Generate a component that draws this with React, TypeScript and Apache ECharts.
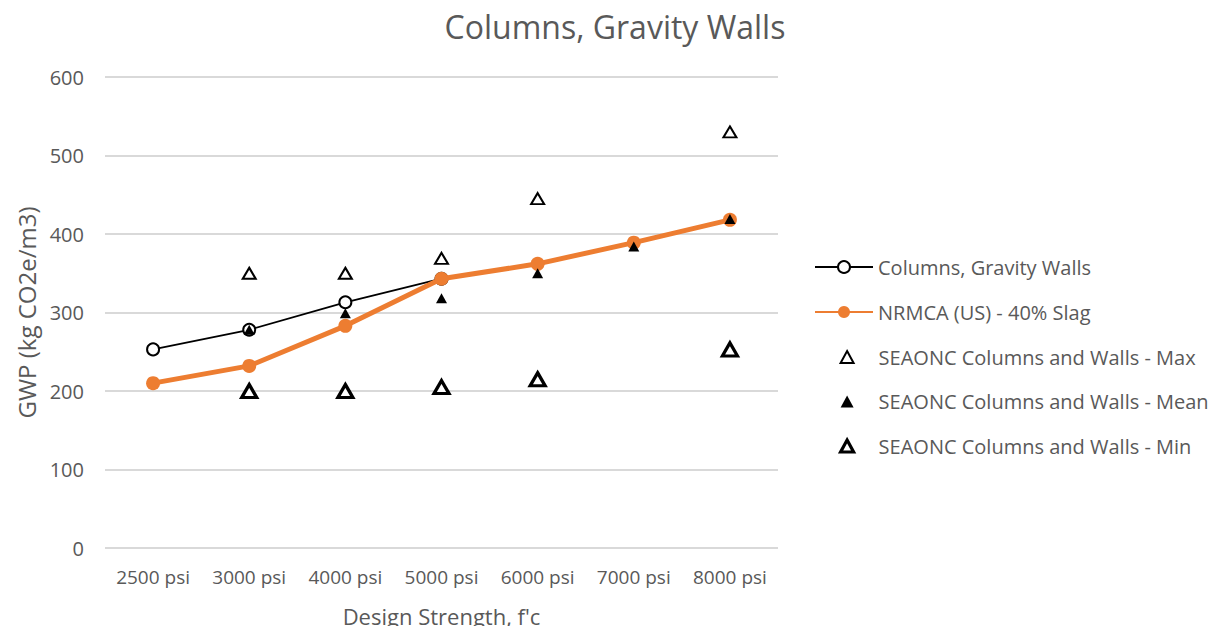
import React, { useEffect, useRef } from "react";
import * as echarts from "echarts";

const categories = ["2500 psi", "3000 psi", "4000 psi", "5000 psi", "6000 psi", "7000 psi", "8000 psi"];
const columnsGravityWalls = [253, 278, 313, 343, null, null, null];
const nrmcaSlag = [210, 232, 283, 343, 362, 389, 418];
const seaoncMax = [null, 350, 350, 369, 445, null, 530];
const seaoncMean = [null, 278, 299, 318, 350, 384, 419];
const seaoncMin = [null, 200, 200, 205, 215, null, 253];

const FONT = "'Open Sans', 'Noto Sans', sans-serif";
const GREY = "#595959";

export default function App() {
  const ref = useRef<HTMLDivElement>(null);
  useEffect(() => {
    if (!ref.current) return;
    const chart = echarts.init(ref.current, undefined, { renderer: "svg" });
    chart.setOption({
      animation: false,
      backgroundColor: "#ffffff",
      textStyle: { fontFamily: FONT, color: GREY },
      title: {
        text: "Columns, Gravity Walls",
        left: 610,
        textAlign: "center",
        top: 5,
        textStyle: { fontFamily: FONT, fontSize: 32, fontWeight: "normal", color: GREY },
      },
      grid: { left: 105, right: 450, top: 77, bottom: 86, containLabel: false },
      legend: [
        {
          orient: "vertical",
          left: 814,
          top: 256,
          padding: 0,
          itemWidth: 58,
          itemHeight: 15,
          itemGap: 23,
          textStyle: { fontFamily: FONT, fontSize: 20, color: GREY, lineHeight: 22 },
          data: ["Columns, Gravity Walls", "NRMCA (US) - 40% Slag"],
        },
        {
          orient: "vertical",
          left: 839,
          top: 346,
          padding: 0,
          itemWidth: 13,
          itemHeight: 12,
          itemGap: 22.5,
          textStyle: { fontFamily: FONT, fontSize: 20, color: GREY, lineHeight: 22, padding: [0, 0, 0, 20] },
          data: [
            { name: "SEAONC Columns and Walls - Max", itemStyle: { borderWidth: 2, opacity: 1 } },
            { name: "SEAONC Columns and Walls - Mean", itemStyle: { opacity: 1 } },
            { name: "SEAONC Columns and Walls - Min", itemStyle: { borderWidth: 3.2, opacity: 1 } },
          ],
        },
      ],
      xAxis: {
        type: "category",
        data: categories,
        boundaryGap: true,
        axisLine: { show: false },
        axisTick: { show: false },
        axisLabel: { fontFamily: FONT, fontSize: 19, color: GREY, margin: 19, interval: 0, hideOverlap: false },
        name: "Design Strength, f'c",
        nameLocation: "middle",
        nameGap: 57,
        nameTextStyle: { fontFamily: FONT, fontSize: 22, color: GREY },
      },
      yAxis: {
        type: "value",
        min: 0,
        max: 600,
        interval: 100,
        axisLine: { show: false },
        axisTick: { show: false },
        splitLine: { lineStyle: { color: "#d9d9d9", width: 1.8 } },
        axisLabel: { fontFamily: FONT, fontSize: 20, color: GREY, margin: 21 },
        name: "GWP (kg CO2e/m3)",
        nameLocation: "middle",
        nameRotate: 90,
        nameGap: 67,
        nameTextStyle: { fontFamily: FONT, fontSize: 24, color: GREY },
      },
      series: [
        {
          name: "Columns, Gravity Walls",
          type: "line",
          data: columnsGravityWalls,
          connectNulls: false,
          symbol: "emptyCircle",
          symbolSize: 12,
          color: "#000000",
          lineStyle: { color: "#000000", width: 1.8 },
          itemStyle: { color: "#000000", borderColor: "#000000", borderWidth: 1.8 },
          z: 2,
        },
        {
          name: "NRMCA (US) - 40% Slag",
          type: "line",
          data: nrmcaSlag,
          symbol: "circle",
          symbolSize: 14,
          color: "#ED7D31",
          lineStyle: { color: "#ED7D31", width: 5 },
          itemStyle: { color: "#ED7D31", borderColor: "#ED7D31", borderWidth: 0 },
          z: 3,
        },
        {
          name: "SEAONC Columns and Walls - Max",
          type: "scatter",
          data: seaoncMax,
          symbol: "triangle",
          symbolSize: [13, 11],
          itemStyle: { color: "#ffffff", borderColor: "#000000", borderWidth: 2, opacity: 1 },
          z: 4,
        },
        {
          name: "SEAONC Columns and Walls - Mean",
          type: "scatter",
          data: seaoncMean,
          symbol: "triangle",
          symbolSize: [11, 10],
          itemStyle: { color: "#000000", borderColor: "#000000", borderWidth: 0, opacity: 1 },
          z: 5,
        },
        {
          name: "SEAONC Columns and Walls - Min",
          type: "scatter",
          data: seaoncMin,
          symbol: "triangle",
          symbolSize: [15, 13],
          itemStyle: { color: "#ffffff", borderColor: "#000000", borderWidth: 3.2, opacity: 1 },
          z: 6,
        },
      ],
    });
    return () => chart.dispose();
  }, []);
  return <div ref={ref} style={{ width: 1228, height: 634, margin: -8 }} />;
}
